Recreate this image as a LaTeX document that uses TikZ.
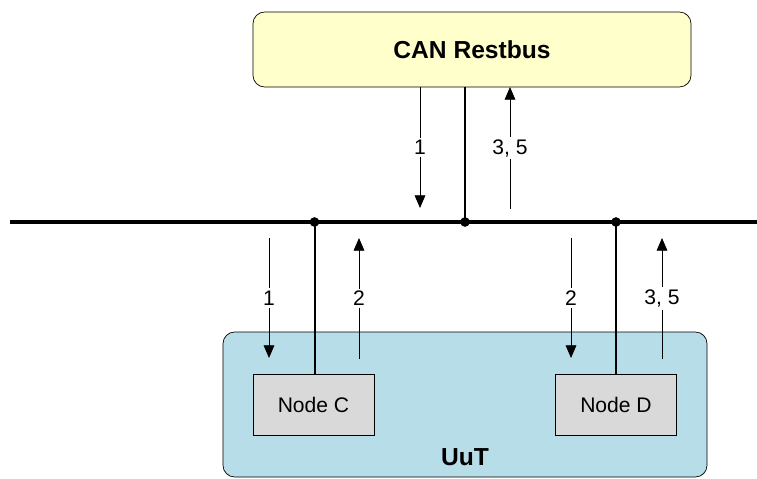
\documentclass[tikz,border=0pt]{standalone}
\usepackage{fontspec}
\setmainfont{Liberation Sans}
\usetikzlibrary{arrows.meta,positioning,calc}

\definecolor{restbusfill}{RGB}{255,255,204}
\definecolor{uutfill}{RGB}{183,221,232}
\definecolor{ecufill}{RGB}{217,217,217}

\begin{document}
\begin{tikzpicture}[
    x=0.03cm, y=-0.03cm,
    bigbox/.style={draw, rounded corners=3.5mm, line width=0.6pt, inner sep=0pt},
    ecu/.style={draw, fill=ecufill, line width=0.6pt, minimum width=3.63cm, minimum height=1.83cm, font=\fontsize{18}{21}\selectfont},
    wire/.style={line width=1.7pt},
    msg/.style={-{Triangle[length=3.8mm, width=3.2mm]}, line width=0.7pt},
    lbl/.style={fill=white, inner sep=2pt, font=\fontsize{18}{21}\selectfont},
    tap/.style={circle, fill, inner sep=0pt, minimum size=2.9mm},
]
    \useasboundingbox (0,0) rectangle (757,479);

    % Boxes
    \node[bigbox, fill=restbusfill, minimum width=13.14cm, minimum height=2.25cm] (restbus) at (472,49.5) {};
    \node[font=\fontsize{21}{24}\selectfont\bfseries] (restbuslabel) at (restbus) {CAN Restbus};
    \node[bigbox, fill=uutfill, minimum width=14.52cm, minimum height=4.35cm] (uut) at (465,404.5) {};
    \node[font=\fontsize{21}{24}\selectfont\bfseries] (uutlabel) at (465,457) {UuT};
    \node[ecu] (nodeC) at (313.5,404.5) {Node C};
    \node[ecu] (nodeD) at (616,404.5) {Node D};

    % Bus line and taps
    \coordinate (busL) at (10,222);
    \coordinate (busR) at (757,222);
    \draw[line width=2.6pt] (busL) -- (busR);
    \node[tap] (tapC) at (314.5,222) {};
    \node[tap] (tapR) at (465,222) {};
    \node[tap] (tapD) at (616,222) {};

    \draw[wire] (restbus.south -| tapR) -- (tapR.center);
    \draw[wire] (tapC.center) -- (nodeC.north -| tapC);
    \draw[wire] (tapD.center) -- (nodeD.north -| tapD);

    % Messages between Restbus and bus
    \coordinate (m1a) at (420,87);   \coordinate (m1b) at (420,208);
    \coordinate (m35a) at (510,209); \coordinate (m35b) at (510,87);
    \draw[msg] (m1a) -- node[lbl] {1} (m1b);
    \draw[msg] (m35a) -- node[lbl] {3, 5} (m35b);

    % Messages between bus and UuT
    \coordinate (c1a) at (269,238);  \coordinate (c1b) at (269,358);
    \coordinate (c2a) at (359,359);  \coordinate (c2b) at (359,238);
    \coordinate (d2a) at (571,238);  \coordinate (d2b) at (571,358);
    \coordinate (d35a) at (662,359); \coordinate (d35b) at (662,238);
    \draw[msg] (c1a) -- node[lbl] {1} (c1b);
    \draw[msg] (c2a) -- node[lbl] {2} (c2b);
    \draw[msg] (d2a) -- node[lbl] {2} (d2b);
    \draw[msg] (d35a) -- node[lbl] {3, 5} (d35b);
\end{tikzpicture}
\end{document}
